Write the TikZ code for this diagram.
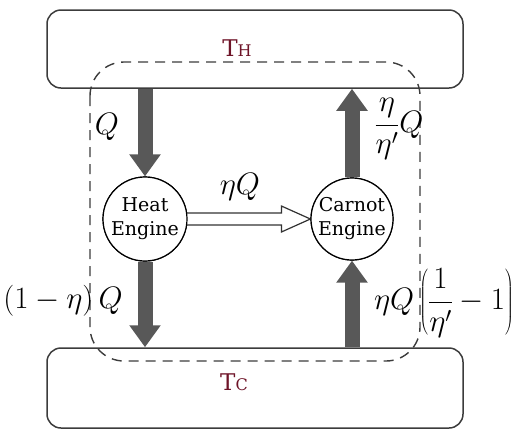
\RequirePackage{fix-cm}
\documentclass[tikz,border=0pt]{standalone}
\usepackage{fontspec}
\setmainfont{DejaVu Serif}
\usetikzlibrary{arrows.meta,calc}
\definecolor{tcol}{RGB}{110,20,40}
\definecolor{boxline}{RGB}{60,60,60}
\definecolor{arrgray}{RGB}{88,88,88}
\tikzset{
  reservoir/.style={draw=boxline, line width=1.5pt, rounded corners=14pt, minimum width=416pt, inner sep=0pt},
  engine/.style={draw=black, line width=1.2pt, fill=white, circle, inner sep=0pt, align=center,
     font=\fontsize{19}{24}\selectfont},
  bigarrow/.style={draw=arrgray, line width=15pt, -{Triangle[length=22pt,width=30pt]}, arrgray},
  hollowarrow/.style={draw=black!80, line width=1.2pt, fill=white, line join=miter},
  bound/.style={draw=boxline, line width=1.4pt, dash pattern=on 10pt off 7pt, rounded corners=34pt},
  lbl/.style={font=\fontsize{31}{36}\selectfont, inner sep=0pt},
  tlbl/.style={text=tcol, font=\fontsize{23}{28}\selectfont, inner sep=0pt}
}
\begin{document}
\begin{tikzpicture}[x=1pt,y=-1pt]
\useasboundingbox (0,0) rectangle (530,440);
% reservoirs
\node[reservoir, minimum height=78pt] (hot) at (255,49) {};
\node[reservoir, minimum height=80pt] (cold) at (255,388) {};
\node[tlbl] (th) at (237,48) {T{\fontsize{16}{18}\selectfont H}};
\node[tlbl] (tc) at (234,382) {T{\fontsize{16}{18}\selectfont C}};
% engines
\node[engine, minimum size=84pt] (he) at (145,219) {Heat\\Engine};
\node[engine, minimum size=82pt] (ce) at (352,219) {Carnot\\Engine};
% thick arrows
\draw[bigarrow] (he.center |- hot.south) -- (he.north);
\draw[bigarrow] (he.south) -- (he.center |- cold.north);
\draw[bigarrow] (ce.center |- cold.north) -- (ce.south);
\draw[bigarrow] (ce.north) -- (ce.center |- hot.south);
% hollow arrow
\draw[hollowarrow] ($(he.east)+(-1,-6)$) -- ($(ce.west)+(-29,-6)$) -- ($(ce.west)+(-29,-13)$)
  -- (ce.west) -- ($(ce.west)+(-29,13)$) -- ($(ce.west)+(-29,6)$) -- ($(he.east)+(-1,6)$);
% redraw circles on top of arrow tips
\node[engine, minimum size=84pt] at (he) {Heat\\Engine};
\node[engine, minimum size=82pt] at (ce) {Carnot\\Engine};
% system boundary
\draw[bound] (90,62) rectangle (420,361);
% labels
\node[lbl] (lq) at (107,127) {$Q$};
\node[lbl] (lcq) at (399,129) {$\displaystyle\frac{\eta}{\eta'}Q$};
\node[lbl] (leq) at (240,187) {$\eta Q$};
\node[lbl] (lrej) at (63,301) {$(1-\eta)\,Q$};
\node[lbl] (lcold) at (444,303) {$\displaystyle\eta Q\left(\frac{1}{\eta'}-1\right)$};
\end{tikzpicture}
\end{document}
